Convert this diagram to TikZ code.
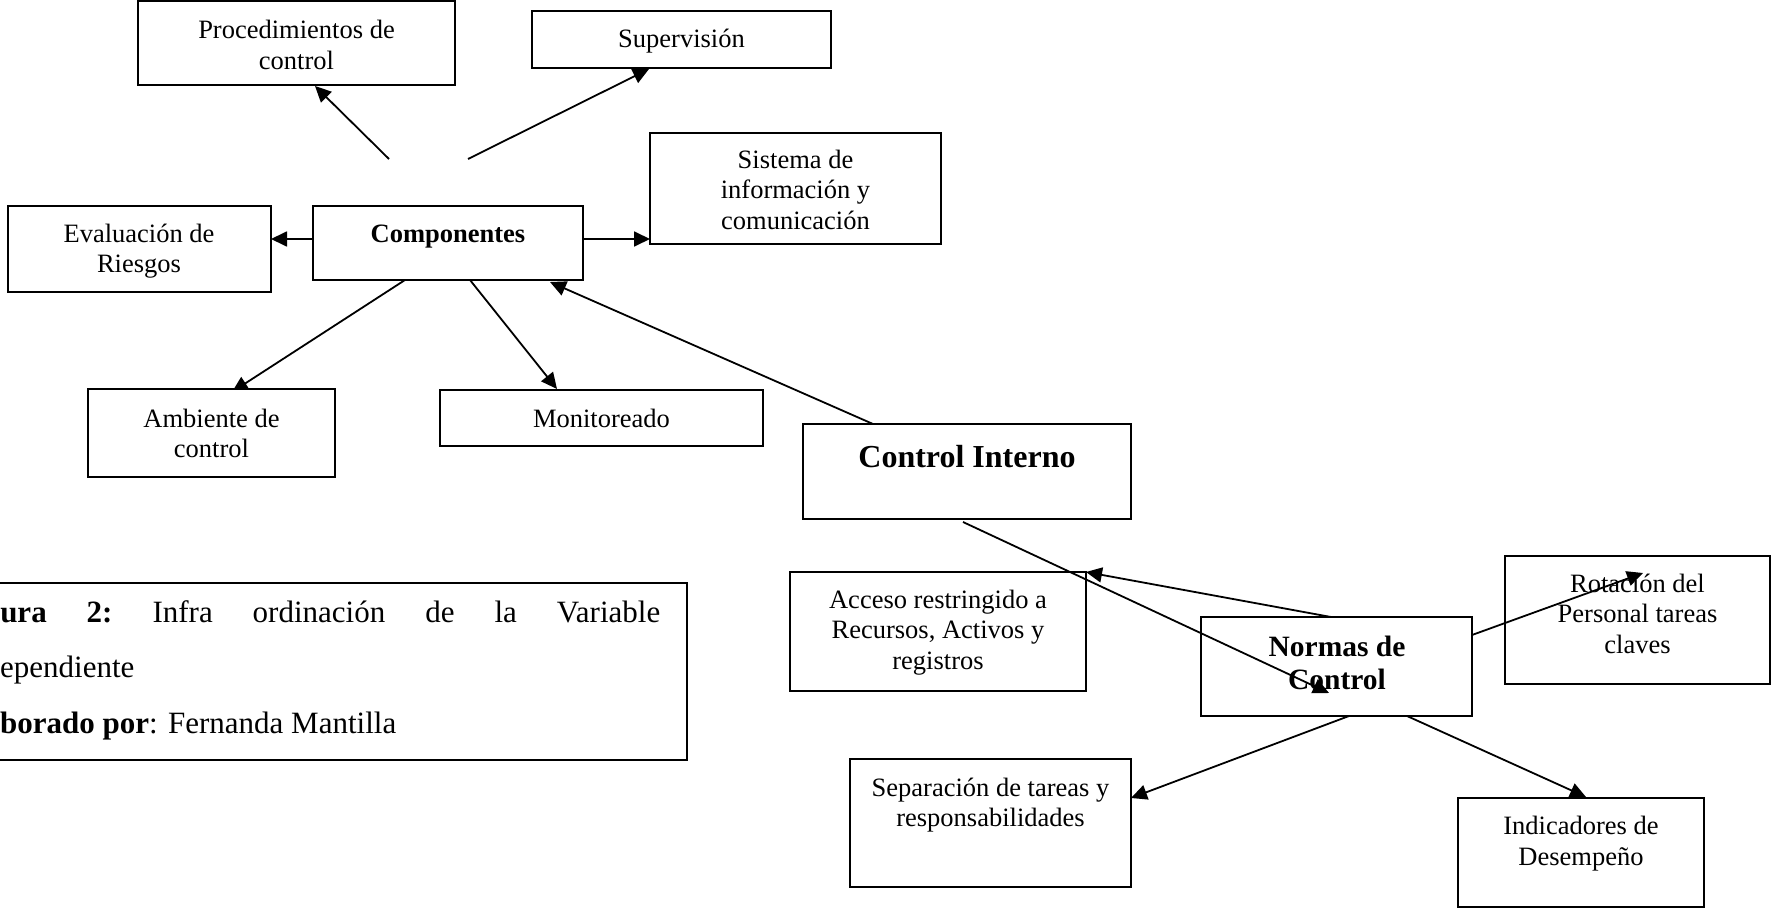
\documentclass[tikz,border=0pt]{standalone}
\usepackage{fontspec}
\setmainfont{Liberation Serif}
\usetikzlibrary{arrows.meta}
\pgfdeclarelayer{back}
\pgfdeclarelayer{bg}
\pgfsetlayers{back,bg,main}
% fixed-height strut opening the first line of every label
\newcommand{\topstrut}{\rule{0pt}{25pt}}
\tikzset{
  box/.style={draw, line width=2pt, fill=white, inner sep=0pt, outer sep=0pt, anchor=north west},
  lbl/.style={anchor=north, inner sep=0pt, align=center, yshift=-2pt,
    font=\fontsize{26.5}{30.5}\selectfont},
  capline/.style={anchor=base west, inner sep=0pt, font=\fontsize{31}{55}\selectfont},
  arr/.style={line width=1.8pt, -{Triangle[length=16pt,width=15pt]}},
}
\begin{document}
\begin{tikzpicture}[x=1pt, y=-1pt]
\clip (0,0) rectangle (1771,909);
\begin{pgfonlayer}{back}
\fill[white] (0,0) rectangle (1771,909);
\end{pgfonlayer}

% boxes
\node[box, minimum width=317pt, minimum height=84pt] (proc) at (138,1) {};
\node[box, minimum width=299pt, minimum height=57pt] (sup) at (532,11) {};
\node[box, minimum width=291pt, minimum height=111pt] (sis) at (650,133) {};
\node[box, minimum width=263pt, minimum height=86pt] (eval) at (8,206) {};
\node[box, minimum width=270pt, minimum height=74pt] (comp) at (313,206) {};
\node[box, minimum width=247pt, minimum height=88pt] (amb) at (88,389) {};
\node[box, minimum width=323pt, minimum height=56pt] (mon) at (440,390) {};
\node[box, minimum width=328pt, minimum height=95pt] (ci) at (803,424) {};
\node[box, minimum width=296pt, minimum height=119pt] (acc) at (790,572) {};
\node[box, minimum width=271pt, minimum height=99pt] (nor) at (1201,617) {};
\node[box, minimum width=265pt, minimum height=128pt] (rot) at (1505,556) {};
\node[box, minimum width=281pt, minimum height=128pt] (sep) at (850,759) {};
\node[box, minimum width=246pt, minimum height=109pt] (ind) at (1458,798) {};
\node[box, minimum width=767pt, minimum height=177pt] (capbox) at (-80,583) {};

% texts
\node[lbl] (proc-t) at (296.5,11.5) {\topstrut Procedimientos de\\control};
\node[lbl] (sup-t) at (681.5,20.5) {\topstrut Supervisión};
\node[lbl] (sis-t) at (795.5,141) {\topstrut Sistema de\\información y\\comunicación};
\node[lbl] (eval-t) at (139,215) {\topstrut Evaluación de\\Riesgos};
\node[lbl] (comp-t) at (448,215) {\topstrut\bfseries Componentes};
\node[lbl] (amb-t) at (211.5,400) {\topstrut Ambiente de\\control};
\node[lbl] (mon-t) at (601.5,400) {\topstrut Monitoreado};
\node[lbl, font=\fontsize{32}{36}\selectfont\bfseries] (ci-t) at (967,440) {\topstrut Control Interno};
\node[lbl] (acc-t) at (938,581) {\topstrut Acceso restringido a\\Recursos, Activos y\\registros};
\node[lbl, font=\fontsize{29.5}{33}\selectfont\bfseries] (nor-t) at (1337,629) {\topstrut Normas de\\Control};
\node[lbl] (rot-t) at (1637.5,565) {\topstrut Rotación del\\Personal tareas\\claves};
\node[lbl] (sep-t) at (990.5,769) {\topstrut Separación de tareas y\\responsabilidades};
\node[lbl] (ind-t) at (1581,807.5) {\topstrut Indicadores de\\Desempeño};

% caption lines
\node[capline] (cap1) at (-43,622) {\makebox[703pt][s]{\textbf{Figura}\hfill\textbf{2:}\hfill Infra\hfill ordinación\hfill de\hfill la\hfill Variable}};
\node[capline] (cap2) at (-22.4,677.5) {Dependiente};
\node[capline] (cap3) at (-44.8,733) {\textbf{Elaborado por}: Fernanda Mantilla};

% free starting points above Componentes
\coordinate (pa) at (389,159);
\coordinate (pb) at (468,159);

% connectors
\draw[arr] (pa) -- ([xshift=177pt,yshift=-1pt]proc.south west);
\draw[arr] (pb) -- ([xshift=117pt,yshift=-1pt]sup.south west);
\draw[arr] ([yshift=4pt]comp.west) -- ([yshift=4pt]comp.west -| eval.east);
\draw[arr] ([yshift=4pt]comp.east) -- ([yshift=4pt]comp.east -| sis.west);
\begin{pgfonlayer}{bg}
\draw[arr] ([xshift=92pt]comp.south west) -- ([xshift=144pt,yshift=-3pt]amb.north west);
\end{pgfonlayer}
\draw[arr] ([xshift=157pt]comp.south west) -- ([xshift=117pt,yshift=1pt]mon.north west);
\draw[arr] ([xshift=70pt]ci.north west) -- ([xshift=237pt,yshift=-2pt]comp.south west);
\draw[arr] ([xshift=160pt,yshift=-3pt]ci.south west) -- ([xshift=128pt,yshift=-76pt]nor.north west);
\draw[arr] ([xshift=130pt]nor.north west) -- (acc.north east);
\draw[arr] ([yshift=-18pt]nor.north east) -- ([xshift=138pt,yshift=-17pt]rot.north west);
\draw[arr] ([xshift=148pt]nor.south west) -- ([yshift=-39pt]sep.north east);
\draw[arr] ([xshift=206pt]nor.south west) -- ([xshift=128pt,yshift=1pt]ind.north west);
\end{tikzpicture}
\end{document}
